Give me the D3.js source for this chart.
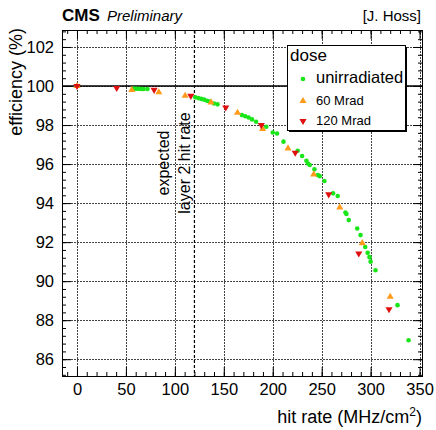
<!DOCTYPE html>
<html>
<head>
<meta charset="utf-8">
<script src="https://cdn.jsdelivr.net/npm/d3@7"></script>
<style>
  body { margin: 0; background: #fff; }
  svg { font-family: "Liberation Sans", Arial, Helvetica, sans-serif; }
</style>
</head>
<body>
<svg id="chart" width="436" height="430"></svg>
<script>
// Efficiency vs. hit rate for three irradiation doses
const unirradiated = [
  [0, 100], [58, 99.87], [60, 99.86], [62, 99.86], [64, 99.86], [66, 99.85], [68, 99.85], [72, 99.85],
  [120.8, 99.42], [124, 99.38], [127, 99.34], [130, 99.3], [133, 99.24], [136, 99.2], [140, 99.1], [143.6, 99.06],
  [168.5, 98.51], [172, 98.45], [175.4, 98.39], [178.8, 98.29], [183, 98.17],
  [193.4, 97.91], [200, 97.62], [204.4, 97.57], [211, 97.15],
  [225.5, 96.68], [230, 96.41], [234.4, 96.17], [236, 96.03], [237.8, 95.95], [242.6, 95.73],
  [246, 95.44], [248, 95.38], [252.8, 95.13], [261.7, 94.5], [266.4, 94.36],
  [274.3, 93.52], [275.3, 93.44], [277.7, 93.13], [286.3, 92.7], [289.7, 92.36],
  [294.5, 91.75], [297, 91.45], [298.9, 91.23], [300, 91.0], [305, 90.56], [327.5, 88.77], [338.8, 86.97]
];
const mrad60 = [
  [0, 100], [56, 99.8], [83.6, 99.68], [110.5, 99.5], [137, 99.16], [164, 98.63], [189.7, 97.8],
  [215.6, 96.8], [241.9, 95.47], [268.5, 93.78], [291.5, 91.95], [320, 89.2]
];
const mrad120 = [
  [0, 100], [40.6, 99.9], [78.8, 99.8], [116.3, 99.5], [152, 98.9], [188.3, 98.0],
  [223, 96.58], [257.2, 94.45], [287.9, 91.42], [318.8, 88.56]
];
const xTicks = [0, 50, 100, 150, 200, 250, 300, 350];
const yTicks = [86, 88, 90, 92, 94, 96, 98, 100, 102];
const expectedRate = 120;
const legendLabels = ["unirradiated", "60 Mrad", "120 Mrad"];

const svg = d3.select("#chart");
const plotL = 62, plotR = 422, plotT = 30, plotB = 376;
const x = d3.scaleLinear().domain([-15.3, 352.5]).range([plotL, plotR]);
const y = d3.scaleLinear().domain([85.14, 102.87]).range([plotB, plotT]);

// grid
const grid = svg.append("g").attr("stroke", "#444").attr("stroke-width", 1).attr("stroke-dasharray", "2,1");
grid.selectAll(".gx").data(xTicks).join("line")
  .attr("x1", d => Math.round(x(d)) + 0.5).attr("x2", d => Math.round(x(d)) + 0.5)
  .attr("y1", plotT).attr("y2", plotB);
grid.selectAll(".gy").data(yTicks).join("line")
  .attr("y1", d => Math.round(y(d)) + 0.5).attr("y2", d => Math.round(y(d)) + 0.5)
  .attr("x1", plotL).attr("x2", plotR);

// axes with ticks on all four sides
const xMinor = d3.range(-10, 351, 10);
const yMinor = d3.range(85.2, 102.9, 0.4);
function addAxis(axis, transform) {
  const g = svg.append("g").attr("transform", transform).call(axis);
  g.select(".domain").remove();
  g.selectAll("line").attr("stroke", "#000");
  return g;
}
addAxis(d3.axisBottom(x).tickValues(xMinor).tickSize(-4).tickFormat(""), `translate(0,${plotB})`);
addAxis(d3.axisTop(x).tickValues(xMinor).tickSize(-4).tickFormat(""), `translate(0,${plotT})`);
addAxis(d3.axisLeft(y).tickValues(yMinor).tickSize(-4).tickFormat(""), `translate(${plotL},0)`);
addAxis(d3.axisRight(y).tickValues(yMinor).tickSize(-4).tickFormat(""), `translate(${plotR},0)`);

const xb = addAxis(d3.axisBottom(x).tickValues(xTicks).tickSize(-9).tickPadding(7), `translate(0,${plotB})`);
xb.selectAll("text").attr("font-size", 16.5).attr("fill", "#000");
addAxis(d3.axisTop(x).tickValues(xTicks).tickSize(-9).tickFormat(""), `translate(0,${plotT})`);
const yl = addAxis(d3.axisLeft(y).tickValues(yTicks).tickSize(-9).tickPadding(8), `translate(${plotL},0)`);
yl.selectAll("text").attr("font-size", 16.5).attr("fill", "#000");
addAxis(d3.axisRight(y).tickValues(yTicks).tickSize(-9).tickFormat(""), `translate(${plotR},0)`);

// reference lines
svg.append("line")
  .attr("x1", plotL).attr("x2", plotR).attr("y1", y(100)).attr("y2", y(100))
  .attr("stroke", "#000").attr("stroke-width", 1.5);
svg.append("line")
  .attr("x1", x(expectedRate)).attr("x2", x(expectedRate)).attr("y1", plotT).attr("y2", plotB)
  .attr("stroke", "#000").attr("stroke-width", 1.2).attr("stroke-dasharray", "3,2");

// annotation
const ann = svg.append("g").attr("font-size", 16).attr("text-anchor", "middle");
ann.append("text").attr("transform", `translate(169,163) rotate(-90)`).text("expected");
ann.append("text").attr("transform", `translate(190,163) rotate(-90)`).text("layer 2 hit rate");

// markers
const green = "#19e619", orange = "#ff9a1a", red = "#e01010";
const tri = d3.symbol().type(d3.symbolTriangle).size(22);
svg.append("g").selectAll("circle").data(unirradiated).join("circle")
  .attr("cx", d => x(d[0])).attr("cy", d => y(d[1])).attr("r", 2.3).attr("fill", green);
svg.append("g").selectAll("path").data(mrad60).join("path")
  .attr("d", tri).attr("transform", d => `translate(${x(d[0])},${y(d[1])})`).attr("fill", orange);
svg.append("g").selectAll("path").data(mrad120).join("path")
  .attr("d", tri).attr("transform", d => `translate(${x(d[0])},${y(d[1])}) rotate(180)`).attr("fill", red);

// frame
svg.append("rect").attr("x", plotL + 0.5).attr("y", plotT + 0.5)
  .attr("width", plotR - plotL).attr("height", plotB - plotT)
  .attr("fill", "none").attr("stroke", "#000");

// legend
const lg = svg.append("g");
lg.append("rect").attr("x", 289).attr("y", 47).attr("width", 118).attr("height", 85).attr("fill", "#000");
lg.append("rect").attr("x", 287.5).attr("y", 45.5).attr("width", 118).attr("height", 85)
  .attr("fill", "#fff").attr("stroke", "#000");
lg.append("text").attr("x", 290).attr("y", 61).attr("font-size", 17).text("dose");
lg.append("circle").attr("cx", 303).attr("cy", 79).attr("r", 2.3).attr("fill", green);
lg.append("path").attr("d", tri).attr("transform", "translate(303,101)").attr("fill", orange);
lg.append("path").attr("d", tri).attr("transform", "translate(303,121) rotate(180)").attr("fill", red);
lg.append("text").attr("x", 316).attr("y", 83).attr("font-size", 16.5).text(legendLabels[0]);
lg.append("text").attr("x", 316).attr("y", 105).attr("font-size", 13).text(legendLabels[1]);
lg.append("text").attr("x", 316).attr("y", 125).attr("font-size", 13).text(legendLabels[2]);

// titles
svg.append("text").attr("x", 62).attr("y", 21).attr("font-size", 17).attr("font-weight", "bold").text("CMS");
svg.append("text").attr("x", 107).attr("y", 21).attr("font-size", 15).attr("font-style", "italic").text("Preliminary");
svg.append("text").attr("x", 421).attr("y", 21).attr("font-size", 15).attr("text-anchor", "end").text("[J. Hoss]");

svg.append("text").attr("transform", "translate(22,28) rotate(-90)")
  .attr("font-size", 18).attr("text-anchor", "end").text("efficiency (%)");
const xt = svg.append("text").attr("x", 422).attr("y", 423).attr("font-size", 18).attr("text-anchor", "end");
xt.append("tspan").text("hit rate (MHz/cm");
xt.append("tspan").attr("font-size", 12).attr("dy", -7).text("2");
xt.append("tspan").attr("dy", 7).text(")");
</script>
</body>
</html>
